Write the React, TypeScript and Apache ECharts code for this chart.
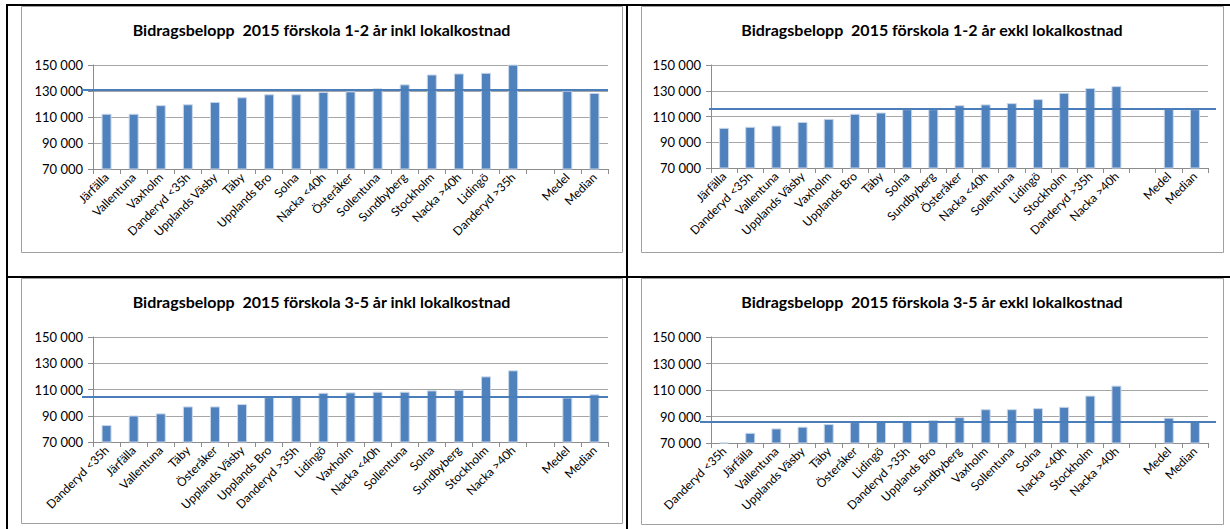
import React, { useEffect, useRef } from 'react';
import * as echarts from 'echarts';

// ---- Data ----
const titles = [
  'Bidragsbelopp  2015 förskola 1-2 år inkl lokalkostnad',
  'Bidragsbelopp  2015 förskola 1-2 år exkl lokalkostnad',
  'Bidragsbelopp  2015 förskola 3-5 år inkl lokalkostnad',
  'Bidragsbelopp  2015 förskola 3-5 år exkl lokalkostnad',
];

const catsTL = ['Järfälla', 'Vallentuna', 'Vaxholm', 'Danderyd <35h', 'Upplands Väsby', 'Täby', 'Upplands Bro', 'Solna', 'Nacka <40h', 'Österåker', 'Sollentuna', 'Sundbyberg', 'Stockholm', 'Nacka >40h', 'Lidingö', 'Danderyd >35h', '', 'Medel', 'Median'];
const valsTL = [112500, 112500, 119100, 119800, 121600, 125200, 127500, 127500, 129200, 129700, 132000, 135100, 142700, 143500, 144000, 150300, null, 130300, 128500];
const lineTL = 130800;

const catsTR = ['Järfälla', 'Danderyd <35h', 'Vallentuna', 'Upplands Väsby', 'Vaxholm', 'Upplands Bro', 'Täby', 'Solna', 'Sundbyberg', 'Österåker', 'Nacka <40h', 'Sollentuna', 'Lidingö', 'Stockholm', 'Danderyd >35h', 'Nacka >40h', '', 'Medel', 'Median'];
const valsTR = [101200, 102000, 103000, 105800, 108200, 112100, 113100, 115700, 115700, 118800, 119400, 120400, 123500, 128400, 132100, 133600, null, 115800, 115700];
const lineTR = 115700;

const catsBL = ['Danderyd <35h', 'Järfälla', 'Vallentuna', 'Täby', 'Österåker', 'Upplands Väsby', 'Upplands Bro', 'Danderyd >35h', 'Lidingö', 'Vaxholm', 'Nacka <40h', 'Sollentuna', 'Solna', 'Sundbyberg', 'Stockholm', 'Nacka >40h', '', 'Medel', 'Median'];
const valsBL = [82900, 90200, 91800, 97100, 97100, 98900, 104200, 105200, 107500, 107800, 108300, 108300, 109300, 109800, 120000, 124600, null, 103900, 106300];
const lineBL = 104100;

const catsBR = ['Danderyd <35h', 'Järfälla', 'Vallentuna', 'Upplands Väsby', 'Täby', 'Österåker', 'Lidingö', 'Danderyd >35h', 'Upplands Bro', 'Sundbyberg', 'Vaxholm', 'Sollentuna', 'Solna', 'Nacka <40h', 'Stockholm', 'Nacka >40h', '', 'Medel', 'Median'];
const valsBR = [70400, 77700, 81000, 82300, 84300, 85800, 86000, 86000, 87300, 89500, 95500, 95500, 96300, 97300, 105800, 113300, null, 89100, 86000];
const lineBR = 85700;

const yTicks = [70000, 90000, 110000, 130000, 150000];

// ---- Layout (pixels) ----
const panels = [
  { x: 21, y: 6, w: 601, h: 246, gl: 93, gr: 608, gt: 65, gb: 169, ls: 81, le: 608 },
  { x: 641, y: 6, w: 582, h: 246, gl: 711, gr: 1208, gt: 65, gb: 168, ls: 709, le: 1216 },
  { x: 21, y: 278, w: 601, h: 245, gl: 93, gr: 608, gt: 337, gb: 442, ls: 82, le: 608 },
  { x: 641, y: 278, w: 582, h: 246, gl: 711, gr: 1208, gt: 337, gb: 443, ls: 700, le: 1216 },
];

const W = 1230;
const H = 529;
const FONT = 'Lato, "Open Sans", sans-serif';
const BAR = '#4f81bd';
const LINE = '#4a7ebb';
const GRID = '#a6a6a6';
const AXIS = '#8c8c8c';

const fmt = (v: number) => String(v).replace(/\B(?=(\d{3})+(?!\d))/g, ' ');

export default function App() {
  const ref = useRef<HTMLDivElement>(null);
  useEffect(() => {
    if (!ref.current) return;
    const chart = echarts.init(ref.current, null, { renderer: 'svg' });
    const cats = [catsTL, catsTR, catsBL, catsBR];
    const vals = [valsTL, valsTR, valsBL, valsBR];
    const lines = [lineTL, lineTR, lineBL, lineBR];

    const grids = panels.map((p) => ({
      left: p.gl,
      top: p.gt,
      width: p.gr - p.gl,
      height: p.gb - p.gt,
      containLabel: false,
    }));
    const xAxes = panels.map((p, i) => ({
      type: 'category',
      gridIndex: i,
      data: cats[i],
      boundaryGap: true,
      axisLine: { show: true, lineStyle: { color: AXIS, width: 1 } },
      axisTick: { show: true, length: 5, lineStyle: { color: AXIS } },
      axisLabel: {
        interval: 0,
        rotate: 45,
        fontSize: 12,
        fontFamily: FONT,
        color: '#000',
        margin: 6,
      },
      splitLine: { show: false },
    }));
    const yAxes = panels.map((p, i) => ({
      type: 'value',
      gridIndex: i,
      min: yTicks[0],
      max: yTicks[yTicks.length - 1],
      interval: yTicks[1] - yTicks[0],
      axisLine: { show: true, lineStyle: { color: AXIS, width: 1 } },
      axisTick: { show: true, length: 5, lineStyle: { color: AXIS } },
      axisLabel: {
        fontSize: 13,
        fontFamily: FONT,
        color: '#000',
        margin: 10,
        formatter: (v: number) => fmt(v),
      },
      splitLine: { show: true, lineStyle: { color: GRID, width: 1 } },
    }));
    const series = panels.map((p, i) => ({
      type: 'bar',
      xAxisIndex: i,
      yAxisIndex: i,
      data: vals[i],
      barWidth: 10,
      itemStyle: { color: BAR, borderColor: '#c9d7ea', borderWidth: 1 },
      emphasis: { disabled: true },
      markLine: {
        silent: true,
        symbol: 'none',
        label: { show: false },
        lineStyle: { color: LINE, width: 2, type: 'solid' },
        emphasis: { disabled: true },
        data: [[{ yAxis: lines[i], x: p.ls }, { yAxis: lines[i], x: p.le }]],
      },
    }));

    const graphic: any[] = [];
    panels.forEach((p, i) => {
      graphic.push({
        type: 'rect',
        shape: { x: p.x + 0.5, y: p.y + 0.5, width: p.w, height: p.h },
        style: { fill: 'none', stroke: '#a0a0a0', lineWidth: 1 },
        silent: true,
        z: -1,
      });
      graphic.push({
        type: 'text',
        x: p.x + p.w / 2,
        y: 29 + (i >= 2 ? 272 : 0),
        style: {
          text: titles[i],
          font: `bold 16px ${FONT}`,
          fill: '#000',
          textAlign: 'center',
          textVerticalAlign: 'middle',
          align: 'center',
          verticalAlign: 'middle',
        },
        silent: true,
      });
    });
    // black frame lines
    const black = { fill: '#000' };
    graphic.push({ type: 'rect', shape: { x: 6, y: 4, width: 2, height: H - 4 }, style: black, silent: true });
    graphic.push({ type: 'rect', shape: { x: 6, y: 4, width: W - 6, height: 2 }, style: black, silent: true });
    graphic.push({ type: 'rect', shape: { x: 626, y: 4, width: 2, height: H - 4 }, style: black, silent: true });
    graphic.push({ type: 'rect', shape: { x: 6, y: 276, width: W - 6, height: 2 }, style: black, silent: true });

    chart.setOption({
      animation: false,
      backgroundColor: '#fff',
      grid: grids,
      xAxis: xAxes,
      yAxis: yAxes,
      series,
      graphic,
    });
    return () => chart.dispose();
  }, []);
  return (
    <div
      ref={ref}
      style={{ position: 'absolute', left: 0, top: 0, width: W, height: H, background: '#fff' }}
    />
  );
}
